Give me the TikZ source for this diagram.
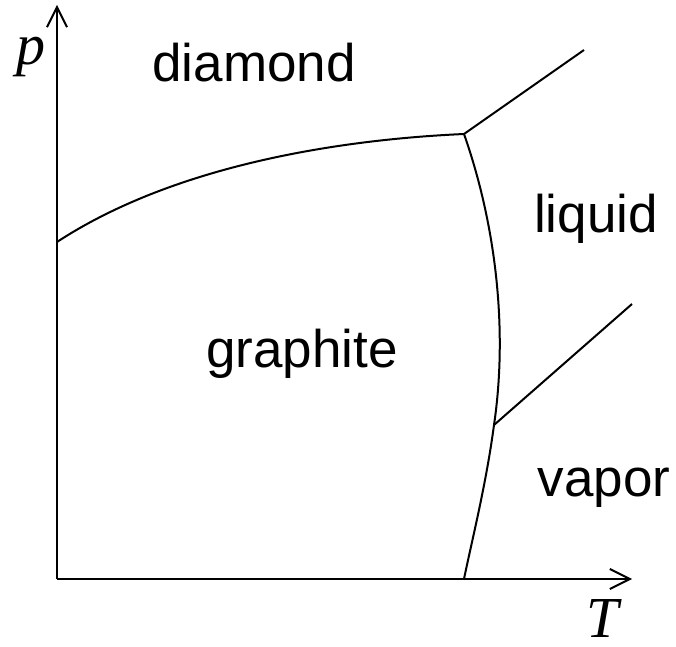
\documentclass[tikz,border=0pt]{standalone}
\usepackage{fontspec}
\setmainfont{Liberation Serif}
\setsansfont{Liberation Sans}
\usetikzlibrary{arrows.meta}
\tikzset{
phaxis/.style={line width=1pt,-{Straight Barb[length=10pt,width=10pt,line width=1pt]}},
phline/.style={line width=1pt},
phlabel/.style={font=\sffamily\fontsize{26.5}{30}\selectfont,inner sep=0pt},
axlabel/.style={font=\fontsize{29}{32}\selectfont\itshape,inner sep=0pt}
}
\begin{document}
\begin{tikzpicture}[x=0.5pt,y=-0.5pt]
\useasboundingbox (0,0) rectangle (676,647);
% axes
\coordinate (origin) at (57,579);
\coordinate (ptip) at (57,5);
\coordinate (Ttip) at (632,579);
\draw[phaxis] (origin) -- (ptip);
\draw[phaxis] (origin) -- (Ttip);
\node[axlabel] (plabel) at (31,57) {p};
\node[axlabel] (Tlabel) at (603,619) {T};
% phase boundaries
\coordinate (dgstart) at (57,242);
\coordinate (triple1) at (464,134);
\coordinate (dlend) at (584,50);
\coordinate (triple2) at (494,425);
\coordinate (lvend) at (632,304);
\coordinate (gvstart) at (464,579);
\draw[phline] (dgstart) .. controls (170,168) and (330,140) .. (triple1);
\draw[phline] (triple1) -- (dlend);
\draw[phline] (triple1) .. controls (496,225) and (508,330) .. (triple2)
  .. controls (486,485) and (472,540) .. (gvstart);
\draw[phline] (triple2) -- (lvend);
% regions
\node[phlabel] (diamond) at (254,63) {diamond};
\node[phlabel] (liquid) at (596,219) {liquid};
\node[phlabel] (graphite) at (302,354) {graphite};
\node[phlabel] (vapor) at (604,488) {vapor};
\end{tikzpicture}
\end{document}
